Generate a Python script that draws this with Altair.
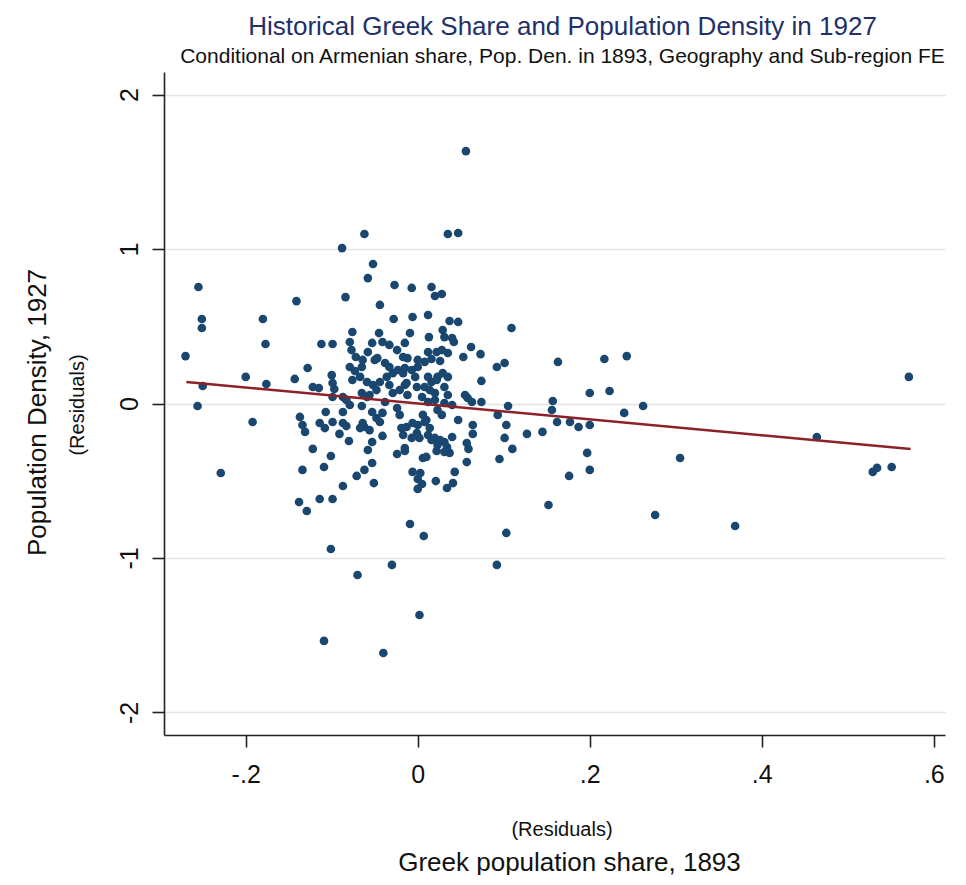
import altair as alt
import pandas as pd

# Residualised Greek population share, 1893 (x) and population density, 1927 (y)
greek_share_resid = [
    -0.270, -0.255, -0.251, -0.251, -0.250, -0.256, -0.229, -0.200, -0.192, -0.180,
    -0.177, -0.176, -0.141, -0.143, -0.128, -0.137, -0.134, -0.131, -0.122, -0.115,
    -0.122, -0.134, -0.138, -0.129, -0.114, -0.099, -0.109, -0.101, -0.109, -0.101,
    -0.112, -0.099, -0.088, -0.084, -0.062, -0.052, -0.058, -0.044, -0.027, -0.007,
    0.016, 0.020, 0.028, 0.035, 0.047, 0.056, -0.028, -0.006, 0.012, 0.037,
    0.047, 0.109, -0.076, -0.079, -0.077, -0.072, -0.045, -0.053, -0.058, -0.050,
    -0.041, -0.033, -0.024, -0.017, -0.100, -0.099, -0.097, -0.079, -0.073, -0.067,
    -0.059, -0.052, -0.044, -0.036, -0.029, -0.023, -0.015, -0.047, -0.038, -0.033,
    -0.064, -0.065, -0.076, -0.065, -0.059, -0.048, -0.033, -0.029, -0.021, -0.015,
    -0.087, -0.083, -0.099, -0.038, -0.079, -0.065, -0.056, -0.009, 0.013, 0.029,
    0.031, 0.040, 0.042, -0.015, 0.062, 0.053, 0.073, 0.035, 0.012, 0.022,
    0.028, -0.012, 0.000, 0.008, 0.016, -0.007, 0.000, -0.003, -0.013, 0.012,
    0.016, 0.023, 0.029, 0.035, 0.008, 0.014, 0.020, 0.031, 0.005, 0.012,
    0.020, 0.035, 0.055, 0.058, 0.063, 0.074, 0.031, 0.040, -0.012, 0.092,
    0.101, 0.074, 0.105, 0.163, 0.217, 0.243, 0.200, 0.223, 0.157, 0.156,
    0.262, 0.240, 0.093, 0.103, 0.127, 0.145, 0.162, 0.177, 0.187, 0.200,
    0.101, 0.110, 0.095, 0.197, 0.176, 0.200, 0.305, 0.064, 0.064, 0.057,
    0.059, 0.057, 0.043, 0.047, -0.006, 0.003, -0.024, -0.015, 0.006, 0.010,
    0.276, 0.369, 0.464, 0.529, 0.534, 0.551, 0.571, 0.152, 0.103, -0.009,
    0.007, -0.030, -0.070, 0.092, 0.002, -0.040, 0.022, 0.031, 0.037, 0.041,
    0.034, 0.021, 0.000, 0.005, 0.000, -0.107, -0.114, -0.108, -0.099, -0.087,
    -0.087, -0.091, -0.080, -0.067, -0.062, -0.056, -0.048, -0.044, -0.053, -0.041,
    -0.053, -0.058, -0.024, -0.021, -0.019, -0.017, -0.053, -0.062, -0.071, -0.051,
    -0.087, 0.000, 0.002, -0.007, -0.015, 0.006, 0.008, 0.014, 0.023, 0.028,
    0.020, 0.023, 0.031, 0.040, 0.012, 0.016, -0.041, -0.013, -0.006, -0.001,
    0.010, 0.026, 0.034, -0.083, -0.064, -0.001, 0.022, 0.026, -0.017,
]

pop_density_resid = [
    0.307, 0.754, 0.547, 0.489, 0.113, -0.016, -0.450, 0.172, -0.120, 0.547,
    0.385, 0.126, 0.663, 0.159, 0.230, -0.087, -0.139, -0.184, 0.107, 0.100,
    -0.294, -0.430, -0.638, -0.696, -0.618, -0.618, -0.411, -0.340, -1.537, -0.942,
    0.385, 0.385, 1.006, 0.689, 1.097, 0.903, 0.812, 0.638, 0.767, 0.748,
    0.754, 0.696, 0.709, 1.097, 1.104, 1.634, 0.547, 0.560, 0.573, 0.534,
    0.528, 0.489, 0.463, 0.398, 0.346, 0.301, 0.456, 0.392, 0.333, 0.282,
    0.398, 0.379, 0.346, 0.301, 0.184, 0.133, 0.094, 0.236, 0.210, 0.172,
    0.139, 0.120, 0.139, 0.172, 0.197, 0.217, 0.230, 0.294, 0.262, 0.236,
    0.282, 0.236, 0.152, 0.068, 0.042, 0.087, 0.120, 0.068, 0.087, 0.120,
    0.042, 0.023, 0.042, 0.010, -0.010, -0.016, 0.055, 0.456, 0.430, 0.476,
    0.430, 0.424, 0.398, 0.392, 0.366, 0.301, 0.320, 0.327, 0.333, 0.333,
    0.346, 0.294, 0.282, 0.269, 0.288, 0.217, 0.236, 0.172, 0.133, 0.172,
    0.139, 0.172, 0.197, 0.172, 0.107, 0.087, 0.068, 0.107, 0.042, 0.010,
    0.023, 0.055, 0.055, 0.036, 0.010, 0.010, 0.003, -0.010, 0.055, 0.236,
    0.262, 0.146, -0.016, 0.269, 0.288, 0.307, 0.068, 0.081, 0.016, -0.042,
    -0.016, -0.061, -0.074, -0.139, -0.197, -0.184, -0.120, -0.120, -0.152, -0.139,
    -0.223, -0.294, -0.359, -0.320, -0.469, -0.430, -0.353, -0.139, -0.197, -0.256,
    -0.294, -0.379, -0.443, -0.107, -0.443, -0.450, -0.327, -0.307, -0.353, -0.346,
    -0.722, -0.793, -0.217, -0.443, -0.417, -0.411, 0.172, -0.657, -0.838, -0.780,
    -0.858, -1.045, -1.110, -1.045, -1.369, -1.615, -0.307, -0.314, -0.320, -0.515,
    -0.547, -0.502, -0.489, -0.521, -0.553, -0.055, -0.126, -0.159, -0.120, -0.055,
    -0.126, -0.197, -0.243, -0.159, -0.152, -0.172, -0.094, -0.120, -0.055, -0.210,
    -0.249, -0.301, -0.029, -0.074, -0.159, -0.204, -0.385, -0.430, -0.469, -0.515,
    -0.534, -0.139, -0.223, -0.223, -0.288, -0.074, -0.120, -0.159, -0.042, -0.074,
    -0.223, -0.269, -0.249, -0.217, -0.204, -0.236, -0.061, -0.152, -0.126, -0.191,
    -0.107, -0.236, -0.282, -0.146, -0.126, 0.107, 0.152, 0.275, 0.197,
]

# Fitted line endpoints
fit_x = [-0.269, 0.573]
fit_y = [0.139, -0.295]

x_ticks = [-0.2, 0, 0.2, 0.4, 0.6]
y_ticks = [-2, -1, 0, 1, 2]

title_text = "Historical Greek Share and Population Density in 1927"
subtitle_text = "Conditional on Armenian share, Pop. Den. in 1893, Geography and Sub-region FE"
x_title = "Greek population share, 1893"
y_title = "Population Density, 1927"
resid_note = ["(Residuals)"]

FONT = "Liberation Sans"
W, H = 781, 663

pts = pd.DataFrame({"x": greek_share_resid, "y": pop_density_resid})
fit = pd.DataFrame({"x": fit_x, "y": fit_y})
note = pd.DataFrame({"t": resid_note})

xscale = alt.Scale(domain=[-0.295, 0.613], nice=False, zero=False)
yscale = alt.Scale(domain=[-2.146, 2.146], nice=False, zero=False)

xaxis = alt.Axis(
    values=x_ticks,
    labelExpr="datum.value == 0 ? '0' : (datum.value < 0 ? '-' : '') + '.' + round(abs(datum.value) * 10)",
    grid=False,
    title=x_title,
    titleFontSize=26,
    titleFontWeight="normal",
    titleX=405,
    titleY=127,
    titleAlign="center",
    titleBaseline="middle",
    labelFontSize=25,
    labelPadding=15,
    tickSize=12,
)
yaxis = alt.Axis(
    values=y_ticks,
    labelExpr="datum.value < 0 ? '-' + abs(datum.value) : '' + datum.value",
    grid=True,
    gridColor="#e3e3e3",
    gridWidth=1.5,
    title=y_title,
    titleFontSize=26,
    titleFontWeight="normal",
    titleAngle=270,
    titleX=-127,
    titleY=340,
    titleAlign="center",
    titleBaseline="middle",
    labelFontSize=25,
    labelAngle=270,
    labelAlign="center",
    labelBaseline="alphabetic",
    labelPadding=15,
    tickSize=12,
)

points = alt.Chart(pts).mark_circle(size=75, color="#1a476f", opacity=1).encode(
    x=alt.X("x:Q", scale=xscale, axis=xaxis),
    y=alt.Y("y:Q", scale=yscale, axis=yaxis),
)

line = alt.Chart(fit).mark_line(color="#8c2127", strokeWidth=2.5).encode(
    x=alt.X("x:Q", scale=xscale),
    y=alt.Y("y:Q", scale=yscale),
)

note_x = alt.Chart(note).mark_text(
    font=FONT, fontSize=20, align="center", baseline="middle", color="#111"
).encode(text="t:N", x=alt.value(398), y=alt.value(758))

note_y = alt.Chart(note).mark_text(
    font=FONT, fontSize=20, align="center", baseline="middle", angle=270, color="#111"
).encode(text="t:N", x=alt.value(-86), y=alt.value(333))

chart = (
    alt.layer(points, line, note_x, note_y)
    .properties(
        width=W,
        height=H,
        autosize=alt.AutoSizeParams(type="none"),
        padding={"left": 156, "top": 64, "right": 10, "bottom": 140},
        title=alt.TitleParams(
            text=title_text,
            subtitle=subtitle_text,
            fontSize=26,
            fontWeight="normal",
            color="#22306a",
            subtitleFontSize=21,
            subtitleColor="#111111",
            subtitlePadding=6,
            anchor="middle",
            dx=8,
            offset=5,
            font=FONT,
            subtitleFont=FONT,
        ),
    )
    .configure_view(stroke=None)
    .configure_axis(
        labelFont=FONT,
        titleFont=FONT,
        labelColor="#111",
        titleColor="#111",
        domainColor="#222",
        domainWidth=1.6,
        tickColor="#222",
        tickWidth=1.6,
    )
)

chart.save("out.html", embed_options={"renderer": "svg", "actions": False})
